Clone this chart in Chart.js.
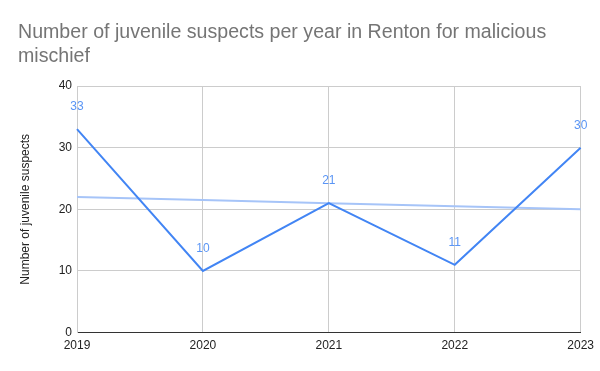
<!DOCTYPE html>
<html>
<head>
<meta charset="utf-8">
<script src="https://cdn.jsdelivr.net/npm/chart.js@4"></script>
<style>
  body { margin: 0; background: #fff; }
  #wrap { width: 600px; height: 371px; }
</style>
</head>
<body>
<div id="wrap"><canvas id="myChart" width="600" height="371"></canvas></div>
<script>
const years = ['2019', '2020', '2021', '2022', '2023'];
const suspects = [33, 10, 21, 11, 30];
const trend = [22, 21.5, 21, 20.5, 20];
const yTicks = [0, 10, 20, 30, 40];

const titleLines = ['Number of juvenile suspects per year in Renton for malicious', 'mischief'];

// title drawn by hand so it can sit left of the axis area
const titlePlugin = {
    id: 'sheetTitle',
    afterDraw(chart) {
        const ctx = chart.ctx;
        ctx.save();
        ctx.fillStyle = '#757575';
        ctx.font = '19.6px Arial, "Liberation Sans"';
        ctx.textBaseline = 'alphabetic';
        ctx.fillText(titleLines[0], 18, 38);
        ctx.fillText(titleLines[1], 18, 62);
        ctx.restore();
    }
};

// value labels above the points of the first dataset
const pointLabels = {
    id: 'pointLabels',
    afterDatasetsDraw(chart) {
        const ctx = chart.ctx;
        const meta = chart.getDatasetMeta(0);
        ctx.save();
        ctx.fillStyle = '#5a95f5';
        ctx.font = '12px Arial, "Liberation Sans"';
        ctx.textAlign = 'center';
        ctx.textBaseline = 'middle';
        meta.data.forEach((pt, i) => {
            ctx.fillText(String(suspects[i]), pt.x, pt.y - 22);
        });
        ctx.restore();
    }
};

const ctx = document.getElementById('myChart').getContext('2d');
new Chart(ctx, {
    type: 'line',
    data: {
        labels: years,
        datasets: [
            {
                label: 'Number of juvenile suspects',
                data: suspects,
                borderColor: '#4285f4',
                borderWidth: 2,
                pointRadius: 0,
                tension: 0
            },
            {
                label: 'Trend',
                data: trend,
                borderColor: '#a6c4f8',
                borderWidth: 2,
                pointRadius: 0,
                tension: 0
            }
        ]
    },
    options: {
        responsive: false,
        animation: false,
        layout: {
            padding: { top: 86, left: 18, right: 18, bottom: 12 }
        },
        plugins: {
            legend: { display: false },
            tooltip: { enabled: false }
        },
        scales: {
            x: {
                offset: false,
                grid: {
                    color: '#cccccc',
                    drawTicks: false
                },
                border: { color: '#333333', width: 1 },
                ticks: {
                    color: '#222222',
                    font: { size: 12, family: 'Arial, "Liberation Sans"' },
                    padding: 6,
                    maxRotation: 0
                }
            },
            y: {
                min: 0,
                max: 40,
                afterBuildTicks: (scale) => {
                    scale.ticks = yTicks.map(v => ({ value: v }));
                },
                afterFit: (scale) => { scale.width = 59; },
                grid: {
                    color: '#cccccc',
                    drawTicks: false
                },
                border: { color: '#cccccc' },
                ticks: {
                    color: '#222222',
                    font: { size: 12, family: 'Arial, "Liberation Sans"' },
                    padding: 5
                },
                title: {
                    display: true,
                    text: 'Number of juvenile suspects',
                    color: '#222222',
                    font: { size: 12, family: 'Arial, "Liberation Sans"' },
                    padding: 0
                }
            }
        }
    },
    plugins: [titlePlugin, pointLabels]
});
</script>
</body>
</html>
